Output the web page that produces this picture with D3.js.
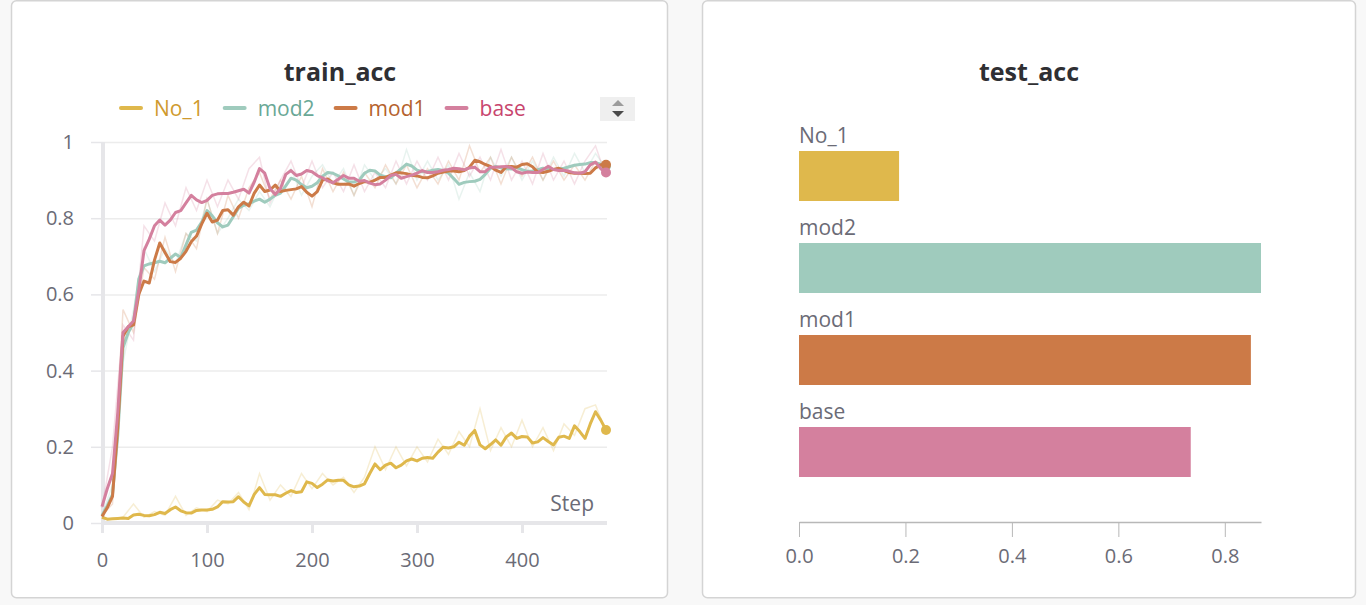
<!DOCTYPE html>
<html>
<head>
<meta charset="utf-8">
<script src="https://cdn.jsdelivr.net/npm/d3@7"></script>
<style>
  html, body { margin: 0; padding: 0; background: #f8f8f8; overflow: hidden; }
  svg { display: block; font-family: "Open Sans", sans-serif; }
</style>
</head>
<body>
<svg id="chart" width="1366" height="605"></svg>
<script>
// runs, in legend order
var runs = ["No_1", "mod2", "mod1", "base"];
var lineColors = ["#dfb84c", "#9fcbbd", "#cc7a47", "#d4809e"];
var textColors = ["#cf9a2e", "#6aa896", "#b5622d", "#c8456e"];

// smoothed train_acc, one value every 5 steps
var steps = [0,5,10,15,20,25,30,35,40,45,50,55,60,65,70,75,80,85,90,95,
  100,105,110,115,120,125,130,135,140,145,150,155,160,165,170,175,180,185,190,195,
  200,205,210,215,220,225,230,235,240,245,250,255,260,265,270,275,280,285,290,295,
  300,305,310,315,320,325,330,335,340,345,350,355,360,365,370,375,380,385,390,395,
  400,405,410,415,420,425,430,435,440,445,450,455,460,465,470,475,480];

var no1Smooth = [0.015,0.010,0.011,0.012,0.013,0.012,0.021,0.023,0.020,0.019,
  0.022,0.028,0.025,0.035,0.042,0.032,0.027,0.026,0.033,0.034,
  0.034,0.036,0.042,0.056,0.055,0.056,0.069,0.055,0.045,0.075,
  0.093,0.075,0.074,0.074,0.070,0.078,0.085,0.080,0.082,0.108,
  0.104,0.093,0.102,0.113,0.110,0.112,0.112,0.100,0.095,0.097,
  0.103,0.130,0.155,0.140,0.152,0.157,0.145,0.152,0.163,0.168,
  0.163,0.170,0.172,0.170,0.186,0.199,0.197,0.200,0.212,0.204,
  0.228,0.243,0.205,0.195,0.206,0.218,0.204,0.226,0.236,0.222,
  0.227,0.226,0.210,0.213,0.224,0.214,0.205,0.225,0.228,0.222,
  0.255,0.240,0.222,0.260,0.292,0.270,0.244];

var mod2Smooth = [0.020,0.045,0.075,0.230,0.460,0.500,0.525,0.640,0.675,0.680,
  0.683,0.687,0.683,0.695,0.706,0.697,0.730,0.763,0.769,0.790,
  0.820,0.806,0.788,0.777,0.782,0.804,0.826,0.834,0.838,0.845,
  0.850,0.842,0.850,0.860,0.866,0.885,0.905,0.900,0.888,0.880,
  0.884,0.893,0.910,0.920,0.918,0.911,0.903,0.895,0.895,0.900,
  0.918,0.926,0.924,0.913,0.909,0.906,0.918,0.930,0.942,0.937,
  0.926,0.922,0.922,0.926,0.928,0.925,0.918,0.904,0.889,0.894,
  0.896,0.897,0.902,0.915,0.931,0.936,0.932,0.930,0.929,0.934,
  0.927,0.923,0.924,0.927,0.931,0.928,0.928,0.929,0.931,0.935,
  0.939,0.941,0.942,0.946,0.946,0.942,0.937];

var mod1Smooth = [0.017,0.040,0.070,0.250,0.490,0.515,0.520,0.600,0.635,0.630,
  0.690,0.735,0.710,0.686,0.684,0.695,0.713,0.738,0.753,0.785,
  0.813,0.790,0.795,0.820,0.822,0.808,0.830,0.842,0.832,0.866,
  0.887,0.870,0.874,0.887,0.870,0.873,0.875,0.877,0.883,0.868,
  0.858,0.870,0.900,0.903,0.893,0.889,0.889,0.890,0.884,0.891,
  0.896,0.894,0.900,0.907,0.907,0.913,0.919,0.919,0.917,0.913,
  0.911,0.907,0.906,0.911,0.918,0.921,0.924,0.924,0.922,0.925,
  0.934,0.952,0.948,0.941,0.936,0.926,0.920,0.935,0.936,0.934,
  0.941,0.943,0.935,0.921,0.920,0.923,0.928,0.931,0.925,0.920,
  0.918,0.918,0.917,0.918,0.932,0.940,0.940];

var baseSmooth = [0.043,0.090,0.130,0.290,0.500,0.515,0.530,0.610,0.715,0.745,
  0.780,0.795,0.782,0.795,0.815,0.820,0.840,0.860,0.848,0.841,
  0.847,0.860,0.864,0.865,0.865,0.868,0.872,0.876,0.866,0.895,
  0.930,0.918,0.878,0.862,0.878,0.915,0.925,0.912,0.916,0.925,
  0.922,0.912,0.906,0.898,0.893,0.902,0.912,0.905,0.905,0.897,
  0.899,0.892,0.888,0.890,0.900,0.912,0.915,0.905,0.909,0.913,
  0.918,0.925,0.920,0.920,0.922,0.926,0.928,0.931,0.930,0.927,
  0.932,0.934,0.922,0.922,0.934,0.934,0.935,0.936,0.932,0.922,
  0.918,0.921,0.920,0.920,0.928,0.936,0.928,0.925,0.926,0.923,
  0.919,0.918,0.922,0.940,0.947,0.930,0.920];

// raw (unsmoothed) train_acc, faint background lines, every 10 steps
var rawSteps = [0,10,20,30,40,50,60,70,80,90,100,110,120,130,140,150,160,170,180,190,
  200,210,220,230,240,250,260,270,280,290,300,310,320,330,340,350,360,370,380,390,
  400,410,420,430,440,450,460,470,480];

var no1Raw = [0.015,0.010,0.015,0.050,0.015,0.030,0.020,0.070,0.020,0.040,
  0.030,0.060,0.050,0.080,0.035,0.130,0.060,0.100,0.070,0.130,
  0.090,0.130,0.100,0.120,0.080,0.120,0.200,0.140,0.200,0.150,
  0.200,0.160,0.220,0.180,0.240,0.200,0.300,0.190,0.250,0.200,
  0.270,0.200,0.250,0.190,0.260,0.230,0.300,0.310,0.240];

var mod2Raw = [0.020,0.100,0.420,0.560,0.720,0.660,0.720,0.680,0.760,0.740,
  0.850,0.760,0.800,0.850,0.820,0.870,0.830,0.890,0.930,0.860,
  0.910,0.940,0.890,0.930,0.860,0.940,0.900,0.930,0.890,0.980,
  0.900,0.950,0.900,0.940,0.850,0.920,0.870,0.960,0.910,0.960,
  0.900,0.950,0.900,0.960,0.910,0.970,0.920,0.970,0.930];

var mod1Raw = [0.020,0.050,0.560,0.500,0.670,0.640,0.750,0.660,0.760,0.720,
  0.850,0.760,0.860,0.800,0.880,0.920,0.850,0.900,0.850,0.910,
  0.830,0.930,0.870,0.920,0.860,0.920,0.880,0.940,0.890,0.940,
  0.880,0.930,0.890,0.950,0.900,0.990,0.920,0.960,0.890,0.960,
  0.910,0.960,0.900,0.950,0.900,0.940,0.900,0.950,0.930];

var baseRaw = [0.040,0.200,0.520,0.480,0.780,0.740,0.840,0.780,0.880,0.820,
  0.900,0.830,0.900,0.850,0.930,0.960,0.840,0.900,0.950,0.880,
  0.950,0.880,0.920,0.870,0.940,0.870,0.920,0.880,0.950,0.890,
  0.950,0.900,0.960,0.900,0.970,0.910,0.960,0.900,0.980,0.900,
  0.950,0.890,0.970,0.900,0.950,0.890,0.950,0.990,0.910];

// test_acc, final value per run
var testAcc = [0.188, 0.868, 0.849, 0.736];

var yTicks = [0, 0.2, 0.4, 0.6, 0.8, 1];
var xTicks = [0, 100, 200, 300, 400];
var barTicks = [0, 0.2, 0.4, 0.6, 0.8];

var smoothed = [no1Smooth, mod2Smooth, mod1Smooth, baseSmooth];
var raw = [no1Raw, mod2Raw, mod1Raw, baseRaw];

var svg = d3.select("#chart");
var tickGray = "#6b6b76";

// the two cards
svg.append("rect").attr("x", 11.5).attr("y", 0.75).attr("width", 656).attr("height", 597)
  .attr("rx", 5).attr("fill", "#fff").attr("stroke", "#d4d4d4").attr("stroke-width", 1.5);
svg.append("rect").attr("x", 702.5).attr("y", 0.75).attr("width", 653).attr("height", 597)
  .attr("rx", 5).attr("fill", "#fff").attr("stroke", "#d4d4d4").attr("stroke-width", 1.5);

// ---------- train_acc ----------
var x = d3.scaleLinear().domain([0, 480]).range([102, 606]);
var y = d3.scaleLinear().domain([0, 1]).range([523, 142]);

svg.append("text").attr("x", 340).attr("y", 81).attr("text-anchor", "middle")
  .attr("font-size", 25).attr("font-weight", 700).attr("fill", "#2f2f33").text("train_acc");

// grid
var grid = svg.append("g").attr("transform", "translate(103,0)")
  .call(d3.axisLeft(y).tickValues(yTicks.slice(1)).tickSize(-504).tickFormat(""));
grid.select(".domain").remove();
grid.selectAll(".tick line").attr("stroke", "#ececec").attr("stroke-width", 1.5);

// y axis
var yAxis = svg.append("g").attr("transform", "translate(103,0)")
  .call(d3.axisLeft(y).tickValues(yTicks).tickFormat(d3.format("~g")).tickSize(12).tickPadding(17));
yAxis.select(".domain").remove();
yAxis.selectAll(".tick line").attr("stroke", "#e6e6e9").attr("stroke-width", 1.5);
yAxis.selectAll("text").attr("font-size", 20).attr("fill", tickGray).attr("font-family", "Open Sans");

svg.append("line").attr("x1", 103).attr("x2", 103).attr("y1", y(1)).attr("y2", y(0))
  .attr("stroke", "#e6e6e9").attr("stroke-width", 4);

// x axis
var xAxis = svg.append("g").attr("transform", "translate(0,523)")
  .call(d3.axisBottom(x).tickValues(xTicks).tickSize(10).tickPadding(20));
xAxis.select(".domain").remove();
xAxis.selectAll(".tick line").attr("stroke", "#e6e6e9").attr("stroke-width", 3);
xAxis.selectAll("text").attr("font-size", 20).attr("fill", tickGray).attr("font-family", "Open Sans");

svg.append("line").attr("x1", 101).attr("x2", 607).attr("y1", 523).attr("y2", 523)
  .attr("stroke", "#e6e6e9").attr("stroke-width", 4);

svg.append("text").attr("x", 594).attr("y", 511).attr("text-anchor", "end")
  .attr("font-size", 21).attr("fill", tickGray).text("Step");

// faint raw lines
var rawLine = d3.line().x(function(d, i) { return x(rawSteps[i]); }).y(function(d) { return y(d); });
raw.forEach(function(vals, k) {
  svg.append("path").datum(vals).attr("d", rawLine).attr("fill", "none")
    .attr("stroke", lineColors[k]).attr("stroke-opacity", 0.24).attr("stroke-width", 1.5);
});

// smoothed lines
var line = d3.line().x(function(d, i) { return x(steps[i]); }).y(function(d) { return y(d); });
smoothed.forEach(function(vals, k) {
  svg.append("path").datum(vals).attr("d", line).attr("fill", "none")
    .attr("stroke", lineColors[k]).attr("stroke-width", 3).attr("stroke-linejoin", "round");
  svg.append("circle").attr("cx", x(steps[steps.length - 1])).attr("cy", y(vals[vals.length - 1]))
    .attr("r", 5).attr("fill", lineColors[k]);
});

// legend
var lx = 121;
runs.forEach(function(name, k) {
  svg.append("line").attr("x1", lx).attr("x2", lx + 20).attr("y1", 108).attr("y2", 108)
    .attr("stroke", lineColors[k]).attr("stroke-width", 4).attr("stroke-linecap", "round");
  var t = svg.append("text").attr("x", lx + 33).attr("y", 116).attr("font-size", 21)
    .attr("fill", textColors[k]).text(name);
  lx = lx + 33 + t.node().getComputedTextLength() + 21;
});

// legend scroll button
svg.append("rect").attr("x", 600).attr("y", 97).attr("width", 35).attr("height", 24).attr("fill", "#efefef");
svg.append("path").attr("d", "M612,106 L618,100 L624,106 Z").attr("fill", "#9c9c9c");
svg.append("path").attr("d", "M612,111 L618,117 L624,111 Z").attr("fill", "#4a4a4a");

// ---------- test_acc ----------
svg.append("text").attr("x", 1029).attr("y", 81).attr("text-anchor", "middle")
  .attr("font-size", 25).attr("font-weight", 700).attr("fill", "#2f2f33").text("test_acc");

var xb = d3.scaleLinear().domain([0, d3.max(testAcc)]).range([799, 1261]);
var yb = d3.scaleBand().domain(runs).range([151, 477]).paddingInner(0.4565).paddingOuter(0);

svg.selectAll(".bar").data(runs).enter().append("rect").attr("class", "bar")
  .attr("x", xb(0)).attr("y", function(d) { return yb(d); })
  .attr("width", function(d, i) { return xb(testAcc[i]) - xb(0); })
  .attr("height", yb.bandwidth())
  .attr("fill", function(d, i) { return lineColors[i]; });

svg.selectAll(".barlabel").data(runs).enter().append("text").attr("class", "barlabel")
  .attr("x", 799).attr("y", function(d) { return yb(d) - 8; })
  .attr("font-size", 21).attr("fill", tickGray).text(function(d) { return d; });

var bAxis = svg.append("g").attr("transform", "translate(0,522)")
  .call(d3.axisBottom(xb).tickValues(barTicks).tickFormat(d3.format(".1f"))
    .tickSize(15).tickSizeOuter(0).tickPadding(12));
bAxis.select(".domain").attr("stroke", "#b8b8b8").attr("stroke-width", 1.5);
bAxis.selectAll(".tick line").attr("stroke", "#b8b8b8");
bAxis.selectAll("text").attr("font-size", 20).attr("fill", tickGray).attr("font-family", "Open Sans");
</script>
</body>
</html>
